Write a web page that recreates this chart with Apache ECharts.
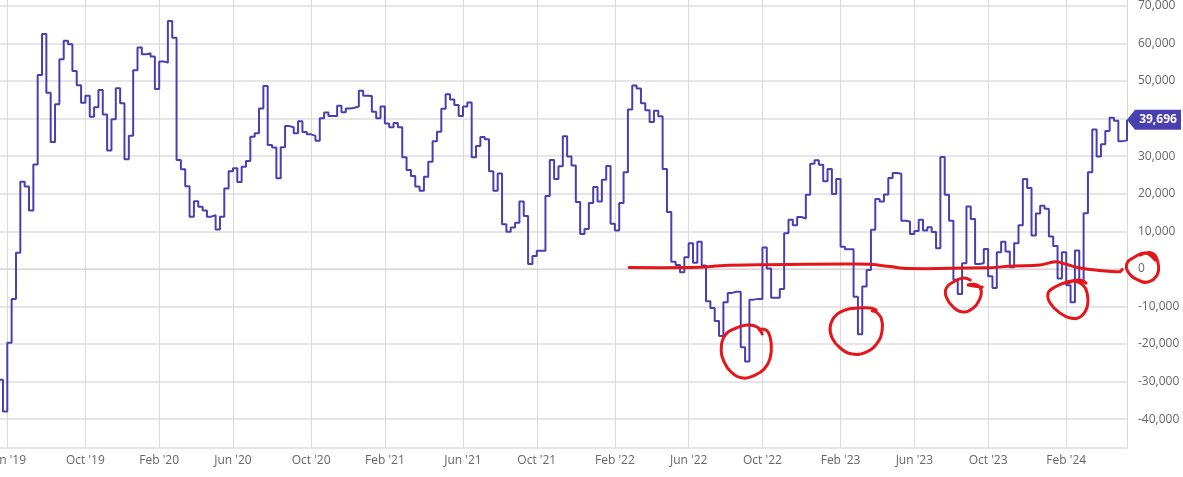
<!DOCTYPE html>
<html>
<head>
<meta charset="utf-8">
<script src="https://cdn.jsdelivr.net/npm/echarts@6/dist/echarts.min.js"></script>
<style>
html,body{margin:0;padding:0;background:#fff;}
#chart{width:1183px;height:477px;}
</style>
</head>
<body>
<div id="chart"></div>
<script>
// Weekly net position, first report 2019-05-14, one value per week
const firstReportUTC = Date.UTC(2019, 4, 14);
const WEEK_MS = 7 * 86400000;
const netPositions = [
  -29500, -38000, -19700, -8000, 4300, 23200, 21900, 15500, 27800, 51600,
  62500, 46900, 33800, 43800, 55800, 60700, 59800, 52700, 48900, 44200,
  46100, 40500, 43000, 47600, 41100, 31500, 39800, 48100, 44100, 29200,
  35400, 52900, 58900, 57100, 57400, 56500, 47900, 55200, 54900, 66000,
  61500, 29000, 26500, 22000, 13900, 18000, 16500, 15500, 13900, 14300,
  10500, 13900, 21400, 26000, 26800, 23100, 27200, 28700, 35200, 36100,
  42700, 48700, 33000, 32300, 24100, 32400, 38000, 37700, 36100, 39300,
  36400, 35800, 35400, 34100, 40100, 41600, 40700, 40700, 43400, 41700,
  42700, 42900, 43200, 47400, 46100, 46000, 41800, 40100, 43200, 38700,
  37700, 38800, 37700, 29700, 26300, 24700, 21900, 20800, 24500, 28500,
  34000, 36500, 42600, 46500, 45100, 43600, 40700, 43200, 44300, 29700,
  32700, 35100, 34500, 26000, 20800, 25400, 11900, 9900, 11000, 12300,
  17900, 14100, 1300, 3400, 4800, 4800, 19400, 29000, 23900, 27300,
  35300, 29900, 27500, 17800, 9300, 10600, 17500, 21800, 17900, 23700,
  27400, 12000, 10200, 17500, 25700, 42400, 48800, 48000, 44100, 42200,
  39100, 42100, 40600, 26600, 15100, 1900, 1000, -900, 3100, 6800,
  1600, 7200, 900, -8600, -10400, -13900, -17900, -8900, -6400, -6100,
  -6100, -20900, -24700, -8200, -8000, -8000, 5700, 100, -7700, -7700,
  -5400, 9500, 13100, 11600, 13800, 13400, 19700, 28000, 28900, 27700,
  23300, 26600, 19900, 23900, 5900, 5200, 5200, -7400, -17400, -4700,
  -300, 10400, 18600, 17900, 19800, 24200, 25500, 25300, 12800, 12600,
  9300, 10100, 13100, 10200, 11100, 9800, 5500, 29800, 19700, 12800,
  -2900, -6700, 1500, 16600, 13300, 1300, 1500, 5300, -2000, -5100,
  4400, 7200, 4600, 400, 6800, 11600, 23900, 21500, 8900, 14700,
  16800, 16000, 8600, 6100, -2600, 4400, -4400, -8900, 4900, -3700,
  14800, 25700, 37100, 29900, 33200, 36700, 40200, 39400, 34000, 34200,
  39696
];
const reportDates = netPositions.map((_, i) => firstReportUTC + i * WEEK_MS);

// x-axis tick positions (report weeks) and their labels
const tickDates = [
  Date.UTC(2019,4,28), Date.UTC(2019,9,1), Date.UTC(2020,0,28), Date.UTC(2020,4,26),
  Date.UTC(2020,8,29), Date.UTC(2021,0,26), Date.UTC(2021,5,1), Date.UTC(2021,8,28),
  Date.UTC(2022,1,1), Date.UTC(2022,4,31), Date.UTC(2022,8,27), Date.UTC(2023,0,31),
  Date.UTC(2023,4,30), Date.UTC(2023,8,26), Date.UTC(2024,0,30)
];
const tickLabels = ["Jun '19","Oct '19","Feb '20","Jun '20","Oct '20","Feb '21","Jun '21",
  "Oct '21","Feb '22","Jun '22","Oct '22","Feb '23","Jun '23","Oct '23","Feb '24"];

// hand-drawn red annotation, in data space: [week index, value]
const zeroMarkLine = [
  [145.3,350],[161.6,400],[166.3,830],[177.1,1090],[195.1,1280],[200.8,1200],
  [205.4,610],[209.4,80],[227.3,270],[233.8,750],[240,1010],[243.5,1860],
  [246.2,1150],[249.2,210],[253.8,-450],[258.2,-770],[258.9,-190]
];
const circleMarks = [
  {c:[172.25,-22420], pts:[[16,-19],[11,-26],[1,-28],[-10,-25],[-21,-18],[-25,-3],[-22,9],[-15,19],[-3,25],[9,22],[18,16],[24,5],[25,-10],[22,-21],[17,-24],[13,-23]]},
  {c:[197.6,-16560], pts:[[20,-21],[14,-23],[2,-23],[-11,-21],[-21,-15],[-26,-4],[-24,7],[-16,17],[-4,23],[10,21],[21,12],[26,-1],[25,-13],[20,-19],[16,-20]]},
  {c:[222.5,-6980], pts:[[6,-15],[-1,-17],[-11,-13],[-18,-7],[-18,2],[-11,12],[-1,17],[9,13],[15,5],[17,-4],[13,-10],[4,-10],[18,-8]]},
  {c:[246.2,-8040], pts:[[19,-16],[13,-19],[0,-17],[-12,-12],[-19,-6],[-17,4],[-7,14],[3,19],[13,18],[20,8],[20,-6],[16,-14],[7,-18],[1,-16]]},
  {c:[263.7,480], pts:[[-3,-12],[9,-14],[15,-4],[14,8],[5,15],[-5,13],[-15,5],[-16,-4],[-10,-9],[2,-14],[12,-7]]}
];

const LINE_COLOR = '#4840b0';
const chart = echarts.init(document.getElementById('chart'), null, {renderer: 'canvas'});

const option = {
  animation: false,
  backgroundColor: '#fff',
  grid: {left: 0, right: 56, top: -20, bottom: 29, containLabel: false, outerBoundsMode: 'none'},
  xAxis: {
    type: 'value',
    min: Date.UTC(2019, 4, 16, 5, 25),
    max: reportDates[reportDates.length - 1],
    axisLine: {show: true, lineStyle: {color: '#d6d6d6', width: 1}},
    axisTick: {show: true, length: 4, customValues: tickDates, lineStyle: {color: '#d6d6d6'}},
    splitLine: {show: true, lineStyle: {color: '#d9d9d9', width: 1}},
    axisLabel: {
      customValues: tickDates,
      showMinLabel: true, showMaxLabel: true,
      color: '#666', fontSize: 12, fontFamily: 'Open Sans', margin: 7,
      formatter: function (val) {
        for (let i = 0; i < tickDates.length; i++) {
          if (Math.abs(tickDates[i] - val) < 3600000) return tickLabels[i];
        }
        return '';
      }
    }
  },
  yAxis: {
    type: 'value',
    position: 'right',
    min: -47700,
    max: 76900,
    splitNumber: 12,
    minInterval: 10000,
    maxInterval: 10000,
    axisLine: {show: true, lineStyle: {color: '#d6d6d6', width: 1}},
    axisTick: {show: false},
    splitLine: {show: true, lineStyle: {color: '#e6e6e6', width: 2}},
    axisLabel: {
      color: '#666', fontSize: 12, fontFamily: 'Open Sans', margin: 11,
      formatter: function (v) {
        if (Math.abs(v % 10000) > 1e-6) return '';
        return v.toLocaleString('en-US');
      }
    }
  },
  series: [{
    type: 'line',
    step: 'end',
    showSymbol: false,
    symbol: 'none',
    clip: true,
    lineStyle: {color: LINE_COLOR, width: 2},
    data: reportDates.map((d, i) => [d, netPositions[i]])
  }]
};
chart.setOption(option);

function toPx(w, v) {
  return chart.convertToPixel({xAxisIndex: 0, yAxisIndex: 0}, [firstReportUTC + w * WEEK_MS, v]);
}

const graphics = [];
const redStyle = {stroke: '#e3161b', lineWidth: 3, fill: null, lineCap: 'round', lineJoin: 'round'};
graphics.push({type: 'polyline', z: 100, shape: {points: zeroMarkLine.map(p => toPx(p[0], p[1])), smooth: 0.4}, style: redStyle});
circleMarks.forEach(cm => {
  const c = toPx(cm.c[0], cm.c[1]);
  graphics.push({type: 'polyline', z: 100, shape: {points: cm.pts.map(o => [c[0] + o[0], c[1] + o[1]]), smooth: 0.45}, style: redStyle});
});

// last-value badge
const lastIdx = netPositions.length - 1;
const lp = chart.convertToPixel({xAxisIndex: 0, yAxisIndex: 0}, [reportDates[lastIdx], netPositions[lastIdx]]);
graphics.push({
  type: 'polygon', z: 110,
  shape: {points: [[lp[0], lp[1]], [lp[0] + 8, lp[1] - 10], [lp[0] + 54, lp[1] - 10], [lp[0] + 54, lp[1] + 10], [lp[0] + 8, lp[1] + 10]]},
  style: {fill: LINE_COLOR}
});
graphics.push({
  type: 'text', z: 111, x: lp[0] + 31, y: lp[1],
  style: {text: netPositions[lastIdx].toLocaleString('en-US'), fill: '#fff', font: 'bold 12px "Open Sans"', align: 'center', verticalAlign: 'middle'}
});
chart.setOption({graphic: graphics});
</script>
</body>
</html>
